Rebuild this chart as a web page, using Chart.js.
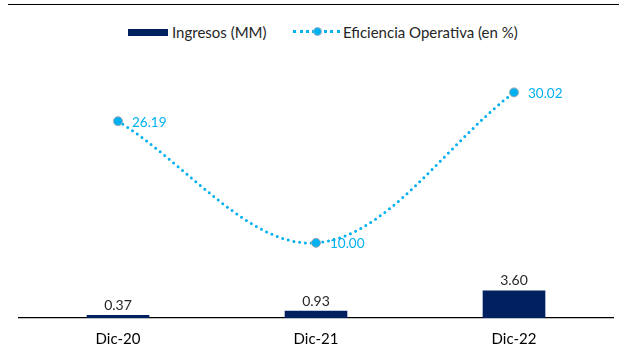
<!DOCTYPE html>
<html>
<head>
<meta charset="utf-8">
<script src="https://cdn.jsdelivr.net/npm/chart.js@4.4.1/dist/chart.umd.min.js"></script>
<style>
  html, body { margin: 0; padding: 0; background: #fff; }
  #wrap { position: relative; width: 619px; height: 356px; overflow: hidden; font-family: Lato, "Open Sans", sans-serif; }
  #rule { position: absolute; left: 8px; right: 0; top: 4px; height: 0; border-top: 1.5px solid #000; }
  #legend { position: absolute; top: 23px; left: 0; width: 619px; height: 18px; font-size: 15px; color: #262626; }
  .lg { position: absolute; top: 0; line-height: 18px; white-space: nowrap; }
  .box { position: absolute; top: 6px; width: 40px; height: 7px; background: #002060; }
  .dots { position: absolute; top: 7px; width: 47px; height: 0; border-top: 3px dotted #00b0f0; }
  .pt { position: absolute; top: 4px; width: 9px; height: 9px; border-radius: 50%; background: #00b0f0; box-sizing: border-box; border: 1px solid #9db5c4; }
  canvas { position: absolute; left: 0; top: 0; }
</style>
</head>
<body>
<div id="wrap">
  <div id="rule"></div>
  <div id="legend">
    <div class="box" style="left:128px"></div>
    <div class="lg" id="lg1" style="left:172px"></div>
    <div class="dots" style="left:293px"></div>
    <div class="pt" style="left:313px"></div>
    <div class="lg" id="lg2" style="left:343px"></div>
  </div>
  <canvas id="c" width="619" height="356"></canvas>
</div>
<script>
const categories = ["Dic-20", "Dic-21", "Dic-22"];
const ingresos = [0.37, 0.93, 3.60];
const eficiencia = [26.19, 10.00, 30.02];
const seriesNames = ["Ingresos (MM)", "Eficiencia Operativa (en %)"];
const yMin = 0, yMax = 35;

document.getElementById('lg1').textContent = seriesNames[0];
document.getElementById('lg2').textContent = seriesNames[1];

const FONT = 'Lato, "Open Sans", sans-serif';

const valueLabels = {
  id: 'valueLabels',
  afterDatasetsDraw(chart) {
    const ctx = chart.ctx;
    ctx.save();
    ctx.font = '14px ' + FONT;
    const mb = chart.getDatasetMeta(0);
    ctx.fillStyle = '#262626';
    ctx.textAlign = 'center';
    ctx.textBaseline = 'bottom';
    mb.data.forEach((el, i) => {
      ctx.fillText(ingresos[i].toFixed(2), el.x, el.y - 3);
    });
    ctx.font = '13.5px ' + FONT;
    const ml = chart.getDatasetMeta(1);
    ctx.fillStyle = '#00b0f0';
    ctx.textAlign = 'left';
    ctx.textBaseline = 'middle';
    ml.data.forEach((el, i) => {
      ctx.fillText(eficiencia[i].toFixed(2), el.x + 14, el.y + 1);
    });
    ctx.restore();
  }
};

new Chart(document.getElementById('c'), {
  data: {
    labels: categories,
    datasets: [
      {
        type: 'bar',
        label: seriesNames[0],
        data: ingresos,
        backgroundColor: '#002060',
        barThickness: 62,
        order: 2
      },
      {
        type: 'line',
        label: seriesNames[1],
        data: eficiencia,
        borderColor: '#00b0f0',
        borderWidth: 3,
        borderDash: [0, 5.8],
        borderCapStyle: 'round',
        tension: 0.35,
        pointRadius: 4.5,
        pointBackgroundColor: '#00b0f0',
        pointBorderColor: '#a0a8ae',
        pointBorderWidth: 1,
        fill: false,
        order: 1
      }
    ]
  },
  options: {
    responsive: false,
    animation: false,
    events: [],
    layout: { padding: { top: 55, left: 19, right: 6, bottom: 0 } },
    plugins: { legend: { display: false }, tooltip: { enabled: false } },
    scales: {
      x: {
        afterFit(scale) { scale.height = 38; },
        grid: { display: false, drawTicks: false },
        border: { display: true, color: '#000', width: 1.3 },
        ticks: { color: '#000', font: { family: FONT, size: 15 }, padding: 12.5 }
      },
      y: {
        display: false,
        min: yMin,
        max: yMax
      }
    }
  },
  plugins: [valueLabels]
});
</script>
</body>
</html>
